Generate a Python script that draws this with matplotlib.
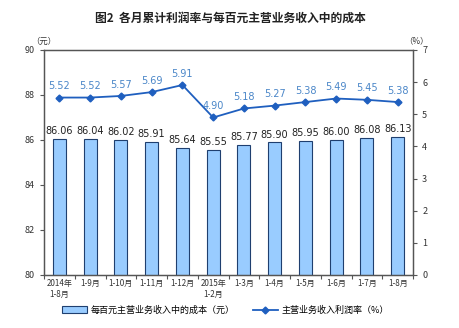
import matplotlib.pyplot as plt
import numpy as np

plt.rcParams['font.family'] = ['Noto Sans CJK SC', 'DejaVu Sans']

# data
months = ["2014年\n1-8月", "1-9月", "1-10月", "1-11月", "1-12月", "2015年\n1-2月",
          "1-3月", "1-4月", "1-5月", "1-6月", "1-7月", "1-8月"]
cost = [86.06, 86.04, 86.02, 85.91, 85.64, 85.55, 85.77, 85.90, 85.95, 86.00, 86.08, 86.13]
profit_rate = [5.52, 5.52, 5.57, 5.69, 5.91, 4.90, 5.18, 5.27, 5.38, 5.49, 5.45, 5.38]

fig = plt.figure(figsize=(4.6, 3.28), dpi=100)
ax = fig.add_axes([0.0957, 0.1616, 0.8023, 0.686])
x = np.arange(len(months))

bars = ax.bar(x, cost, width=0.42, bottom=0, color='#99ccff', edgecolor='#1f3f6f', linewidth=0.8,
              label='每百元主营业务收入中的成本（元）')
ax.set_ylim(80, 90)
ax.set_xlim(-0.5, len(months) - 0.5)
ax.set_yticks(range(80, 91, 2))
for xi, v in zip(x, cost):
    ax.text(xi, v + 0.12, f"{v:.2f}", ha='center', va='bottom', fontsize=7, color='#222222',
            family='DejaVu Sans')

ax2 = ax.twinx()
ln, = ax2.plot(x, profit_rate, color='#1f5fbf', marker='D', markersize=3.5, linewidth=1.3,
               label='主营业务收入利润率（%）')
ax2.set_ylim(0, 7)
ax2.set_yticks(range(0, 8))
for xi, v in zip(x, profit_rate):
    ax2.text(xi, v + 0.2, f"{v:.2f}", ha='center', va='bottom', fontsize=7, color='#4a86c8',
             family='DejaVu Sans')

ax.set_xticks(np.arange(-0.5, len(months), 1), minor=False)
ax.set_xticklabels([])
ax.set_xticks(x, minor=True)
ax.set_xticklabels(months, minor=True, fontsize=5.8, color='#333333')
ax.tick_params(axis='x', which='minor', length=0, pad=3)
ax.tick_params(axis='x', which='major', length=3, color='#555555')
ax.tick_params(axis='y', labelsize=6.5, length=3, color='#555555', labelcolor='#333333')
ax2.tick_params(axis='y', labelsize=6.5, length=3, color='#555555', labelcolor='#333333')

for a in (ax, ax2):
    for s in a.spines.values():
        s.set_color('#555555')
        s.set_linewidth(0.9)

fig.text(0.5, 0.945, "图2  各月累计利润率与每百元主营业务收入中的成本", ha='center', va='center',
         fontsize=8.5, fontweight='bold', color='#222222')
fig.text(0.095, 0.875, "（元）", ha='center', va='center', fontsize=6, color='#333333')
fig.text(0.905, 0.875, "（%）", ha='center', va='center', fontsize=6, color='#333333')

fig.legend(handles=[bars, ln], loc='lower center', bbox_to_anchor=(0.49, 0.015), ncol=2,
           frameon=False, fontsize=6.5, handlelength=2.8, columnspacing=2.0, handleheight=0.8,
           handletextpad=0.4)

fig.savefig('out.png', dpi=100)
